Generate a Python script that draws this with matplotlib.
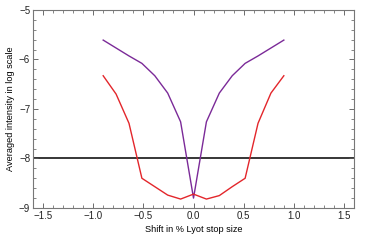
import numpy as np
import matplotlib
matplotlib.use("Agg")
import matplotlib.pyplot as plt
from matplotlib.ticker import MultipleLocator

plt.rcParams['font.family'] = ['Liberation Sans', 'DejaVu Sans']

# shift values (percent of Lyot stop size)
shift = np.linspace(-0.9, 0.9, 15)

# averaged intensity, log scale
purple_vals = [-5.61, -5.77, -5.93, -6.08, -6.33, -6.68, -7.26, -8.80,
               -7.26, -6.68, -6.33, -6.08, -5.93, -5.77, -5.61]
red_vals = [-6.33, -6.70, -7.29, -8.40, -8.57, -8.74, -8.82, -8.72,
            -8.82, -8.75, -8.57, -8.40, -7.29, -6.68, -6.33]
threshold = -8.0

fig = plt.figure(figsize=(3.7, 2.41), dpi=100)
ax = fig.add_axes([0.089, 0.137, 0.868, 0.822])

ax.axhline(threshold, color="black", lw=1.1, zorder=1)
ax.plot(shift, purple_vals, color="#7b2a98", lw=1.0, zorder=2)
ax.plot(shift, red_vals, color="#e3262b", lw=1.0, zorder=2)

ax.set_xlim(-1.6, 1.6)
ax.set_ylim(-9, -5)
ax.xaxis.set_major_locator(MultipleLocator(0.5))
ax.xaxis.set_minor_locator(MultipleLocator(0.1))
ax.yaxis.set_major_locator(MultipleLocator(1))
ax.yaxis.set_minor_locator(MultipleLocator(0.2))
ax.xaxis.set_major_formatter(lambda v, p: f"{v:.1f}".replace("-", "\u2212"))
ax.yaxis.set_major_formatter(lambda v, p: f"{v:.0f}".replace("-", "\u2212"))

ax.tick_params(which="both", direction="in", top=True, right=True,
               color="#555555", labelsize=7, labelcolor="#222222", pad=2)
ax.tick_params(which="major", length=3.5, width=0.6)
ax.tick_params(which="minor", length=2, width=0.5)
for s in ax.spines.values():
    s.set_color("#777777")
    s.set_linewidth(0.8)

ax.set_xlabel("Shift in % Lyot stop size", fontsize=6.6, labelpad=3)
ax.set_ylabel("Averaged intensity in log scale", fontsize=6.6, labelpad=3)

fig.savefig("out.png", dpi=100)
